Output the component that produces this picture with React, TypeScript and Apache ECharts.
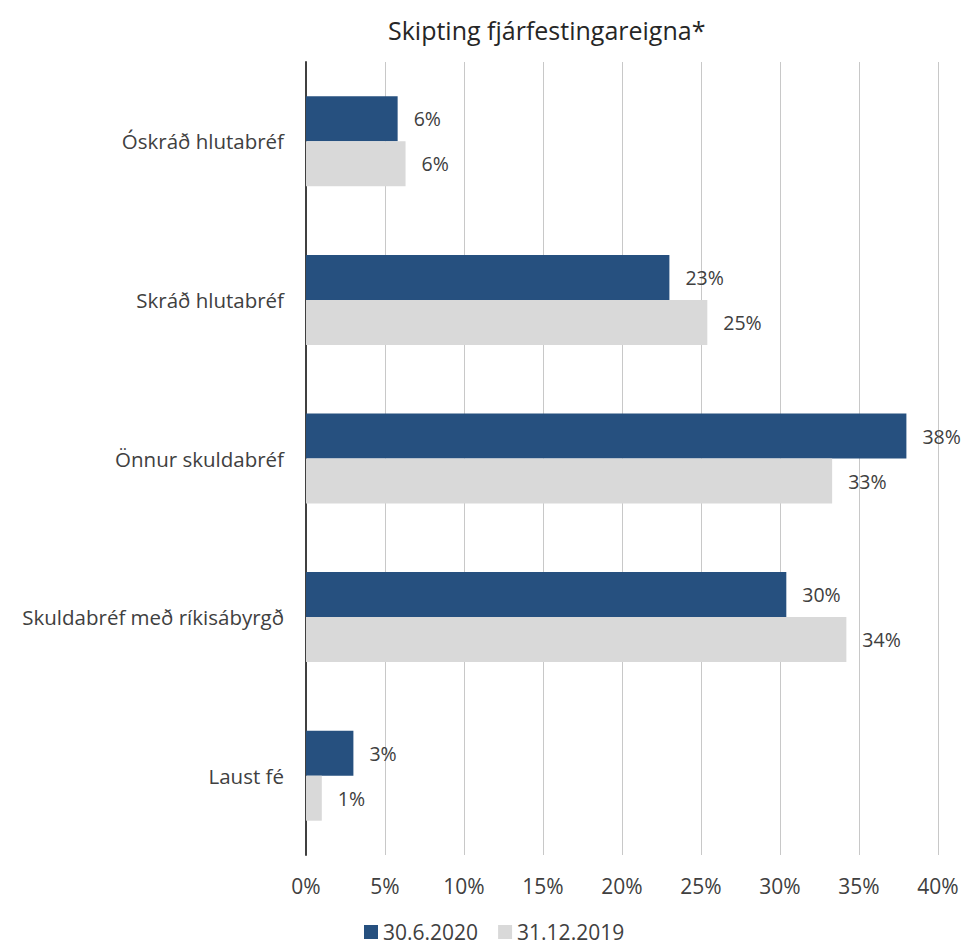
import React, { useEffect, useRef } from "react";
import * as echarts from "echarts";

const categories = ["Óskráð hlutabréf", "Skráð hlutabréf", "Önnur skuldabréf", "Skuldabréf með ríkisábyrgð", "Laust fé"];
const series2020 = [5.8, 23.0, 38.0, 30.4, 3.0];
const series2019 = [6.3, 25.4, 33.3, 34.2, 1.0];
const seriesNames = ["30.6.2020", "31.12.2019"];
const titleText = "Skipting fjárfestingareigna*";

export default function App() {
  const ref = useRef<HTMLDivElement>(null);
  useEffect(() => {
    const chart = echarts.init(ref.current!, null, { renderer: "svg" });
    const font = "'Open Sans', sans-serif";
    const labelStyle = {
      show: true,
      position: "right",
      distance: 16,
      color: "#404040",
      fontSize: 19.5,
      fontFamily: font,
      formatter: (p: any) => Math.round(p.value) + "%",
    };
    chart.setOption({
      animation: false,
      textStyle: { fontFamily: font },
      title: {
        text: titleText,
        left: 383,
        top: 12,
        textStyle: { fontSize: 25, fontWeight: "normal", color: "#262626", fontFamily: font },
      },
      legend: {
        data: seriesNames,
        bottom: 5,
        left: 364,
        itemWidth: 14,
        itemHeight: 14,
        itemGap: 20,
        icon: "rect",
        padding: 0,
        textStyle: { fontSize: 21, lineHeight: 24, color: "#404040", fontFamily: font },
      },
      grid: { left: 306, right: 32, top: 62, bottom: 94 },
      xAxis: {
        type: "value",
        min: 0,
        max: 40,
        interval: 5,
        axisLabel: { formatter: "{value}%", fontSize: 21, color: "#404040", margin: 20, fontFamily: font },
        splitLine: { show: true, lineStyle: { color: "#c8c8c8", width: 1 } },
        axisLine: { show: false },
        axisTick: { show: false },
      },
      yAxis: {
        type: "category",
        data: categories,
        inverse: true,
        axisLine: { show: true, lineStyle: { color: "#404040", width: 2 } },
        axisTick: { show: false },
        axisLabel: { fontSize: 20.5, color: "#404040", margin: 22, fontFamily: font },
      },
      series: [
        {
          name: seriesNames[0],
          type: "bar",
          data: series2020,
          barWidth: 45,
          barGap: "0%",
          itemStyle: { color: "#26507f" },
          label: labelStyle,
        },
        {
          name: seriesNames[1],
          type: "bar",
          data: series2019,
          barWidth: 45,
          barGap: "0%",
          itemStyle: { color: "#d9d9d9" },
          label: labelStyle,
        },
      ],
    });
    return () => chart.dispose();
  }, []);
  return <div ref={ref} style={{ width: 970, height: 949, position: "absolute", left: 0, top: 0 }} />;
}
